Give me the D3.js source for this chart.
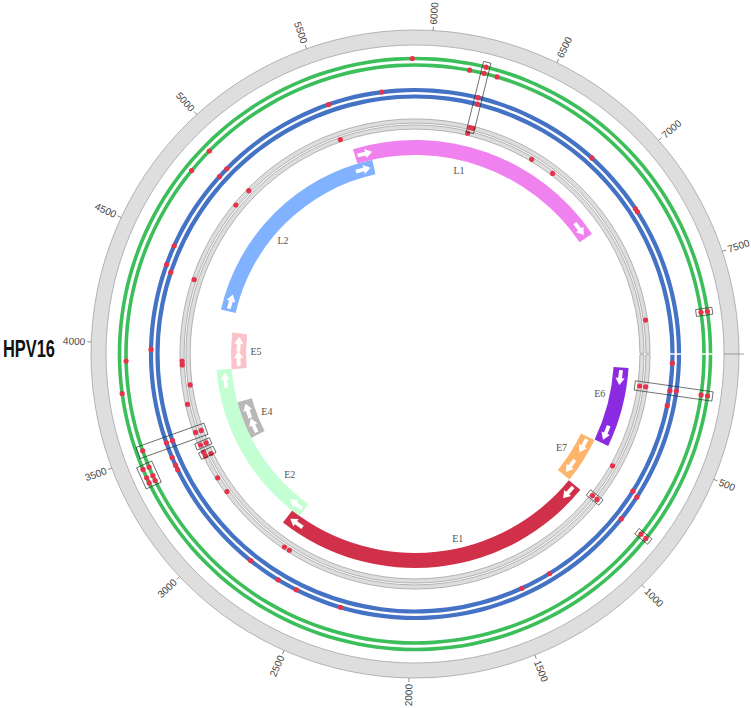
<!DOCTYPE html>
<html>
<head>
<meta charset="utf-8">
<script src="https://cdn.jsdelivr.net/npm/d3@7"></script>
<style>
  body { margin: 0; background: #fff; }
  svg { display: block; }
</style>
</head>
<body>
<div id="chart"></div>
<script>
// genome
const genomeName = "HPV16";
const genomeLength = 7906;
const tickValues = d3.range(500, 8000, 500);

// genes (bp)
const geneNames   = ["E6", "E7", "E1", "E2", "E4", "E5", "L2", "L1"];
const geneStarts  = [83, 562, 865, 2755, 3357, 3849, 4236, 5560];
const geneEnds    = [559, 858, 2813, 3852, 3619, 4101, 5657, 7155];
const geneLanes   = [0, 1, 0, 1, 2, 2, 1, 0];
const geneLabelAt = [265, 718, 1689, 2987, 3485, 3969, 4845, 6225];
const geneColors  = ["#8a2be2", "#fdb56b", "#d0304a", "#c4ffd4", "#b8b8b8", "#fbc2ca", "#80b2ff", "#ef82ef"];

// variant positions on each ring (bp)
const greenOuter = [179, 848, 3385, 3409, 3448, 3784, 5918, 6235, 7724];
const greenInner = [179, 847, 3383, 3406, 3447, 3523, 3922, 4818, 4933, 6169, 6233, 6292, 7724];
const blueOuter  = [177, 721, 849, 2336, 2563, 2662, 2822, 3382, 3406, 3446, 3521, 3975, 4388, 4484,
                    4880, 4931, 5510, 5771, 6233, 6853, 7173, 7190];
const blueInner  = [45, 179, 254, 707, 1285, 1438, 3521, 4359, 6237];
const grayOuter  = [178, 848, 2693, 2725, 3158, 3248, 3383, 3406, 3448, 3521, 3679, 3894, 3915,
                    4362, 4826, 4930, 6228, 6246, 7722];
const grayInner  = [178, 648, 847, 3382, 3447, 3521, 3781, 5508, 6224, 6609, 6749];

// highlighted clusters: bp range and the rings they span
const boxes = [
  { start: 6217, end: 6253, inner: "R1", outer: "G1" },
  { start: 7709, end: 7739, inner: "G2", outer: "G1" },
  { start: 156,  end: 201,  inner: "R2", outer: "G1" },
  { start: 829,  end: 867,  inner: "R2", outer: "R1" },
  { start: 833,  end: 863,  inner: "G2", outer: "G1" },
  { start: 3492, end: 3550, inner: "R2", outer: "G2" },
  { start: 3366, end: 3466, inner: "G2", outer: "G1" },
  { start: 3430, end: 3466, inner: "R2", outer: "R1" },
  { start: 3375, end: 3414, inner: "R2", outer: "R1" }
];

const width = 751, height = 708;
const cx = 415, cy = 354;
const ringR = { G1: 295.5, G2: 289, B1: 264, B2: 257.5, R1: 233, R2: 227 };
const laneR = [[199, 214], [184, 199], [169, 184]];
const outerR = [309, 324];

const theta = d3.scaleLinear().domain([0, genomeLength]).range([0, 2 * Math.PI]);
const deg = (a) => a * 180 / Math.PI;
const arc = d3.arc();
function band(r0, r1, a0, a1) {
  return arc({ innerRadius: r0, outerRadius: r1, startAngle: a0 + Math.PI / 2, endAngle: a1 + Math.PI / 2 });
}

const svg = d3.select("#chart").append("svg")
  .attr("width", width)
  .attr("height", height);

const g = svg.append("g").attr("transform", `translate(${cx},${cy})`);

// outer ideogram ring
g.append("path")
  .attr("d", band(outerR[0], outerR[1], 0, 2 * Math.PI))
  .attr("fill", "#dedede")
  .attr("stroke", "#9a9a9a")
  .attr("stroke-width", 0.7);

// ticks + labels
g.append("line")
  .attr("x1", outerR[0]).attr("x2", outerR[1] + 5)
  .attr("stroke", "#888").attr("stroke-width", 0.8);

const ticks = g.selectAll(".tick")
  .data(tickValues)
  .enter()
  .append("g")
  .attr("class", "tick")
  .attr("transform", (d) => `rotate(${deg(theta(d))})`);

ticks.append("line")
  .attr("x1", outerR[1]).attr("x2", outerR[1] + 4)
  .attr("stroke", "#777").attr("stroke-width", 0.8);

ticks.append("text")
  .attr("x", outerR[1] + 6)
  .attr("dy", "0.35em")
  .attr("font-family", "Liberation Sans, Arial, sans-serif")
  .attr("font-size", 10)
  .attr("fill", "#444")
  .attr("text-anchor", (d) => Math.cos(theta(d)) < 0 ? "end" : "start")
  .attr("transform", (d) => Math.cos(theta(d)) < 0 ? `rotate(180, ${outerR[1] + 6}, 0)` : null)
  .text((d) => d);

// data rings (thin white seam at position 0)
function ring(r, half, fill, stroke) {
  const gap = 0.7 / r;
  g.append("path")
    .attr("d", band(r - half, r + half, gap, 2 * Math.PI - gap))
    .attr("fill", fill)
    .attr("stroke", stroke || "none")
    .attr("stroke-width", 0.7);
}
ring(ringR.G1, 1.8, "#3cbe5a");
ring(ringR.G2, 1.8, "#3cbe5a");
ring(ringR.B1, 2.1, "#4472c4");
ring(ringR.B2, 2.1, "#4472c4");
ring(ringR.R1, 2.1, "#dddddd", "#999");
ring(ringR.R2, 2.1, "#dddddd", "#999");

// genes
const genes = geneNames.map((name, i) => ({
  name, start: geneStarts[i], end: geneEnds[i], lane: geneLanes[i],
  labelAt: geneLabelAt[i], color: geneColors[i]
}));

const geneG = g.selectAll(".gene")
  .data(genes)
  .enter()
  .append("g")
  .attr("class", "gene");

geneG.append("path")
  .attr("d", (d) => band(laneR[d.lane][0], laneR[d.lane][1], theta(d.start), theta(d.end)))
  .attr("fill", (d) => d.color);

// two white arrows near the ends of each gene, pointing clockwise
const arrowPath = "M-8,-1.9 L0,-1.9 L0,-4.6 L7,0 L0,4.6 L0,1.9 L-8,1.9 Z";
geneG.each(function (d) {
  const rm = (laneR[d.lane][0] + laneR[d.lane][1]) / 2;
  const a0 = theta(d.start), a1 = theta(d.end);
  const off = 10.5 / rm;
  [a0 + off, a1 - off].forEach((a) => {
    d3.select(this).append("path")
      .attr("d", arrowPath)
      .attr("fill", "#fff")
      .attr("transform", `translate(${rm * Math.cos(a)},${rm * Math.sin(a)}) rotate(${deg(a) + 90})`);
  });
});

geneG.append("text")
  .attr("x", (d) => (laneR[d.lane][0] - 10) * Math.cos(theta(d.labelAt)))
  .attr("y", (d) => (laneR[d.lane][0] - 10) * Math.sin(theta(d.labelAt)))
  .attr("dy", "0.35em")
  .attr("text-anchor", "middle")
  .attr("font-family", "Liberation Serif, Times New Roman, serif")
  .attr("font-size", 10)
  .attr("fill", "#555")
  .text((d) => d.name);

// variants
const variants = [
  ["G1", greenOuter], ["G2", greenInner],
  ["B1", blueOuter], ["B2", blueInner],
  ["R1", grayOuter], ["R2", grayInner]
].flatMap(([ringName, list]) => list.map((pos) => ({ ring: ringName, pos })));

g.selectAll(".snv")
  .data(variants)
  .enter()
  .append("circle")
  .attr("class", "snv")
  .attr("cx", (d) => ringR[d.ring] * Math.cos(theta(d.pos)))
  .attr("cy", (d) => ringR[d.ring] * Math.sin(theta(d.pos)))
  .attr("r", 2.6)
  .attr("fill", "#e5334b");

// cluster boxes
g.selectAll(".box")
  .data(boxes)
  .enter()
  .append("g")
  .attr("class", "box")
  .attr("transform", (d) => `rotate(${deg(theta((d.start + d.end) / 2))})`)
  .append("rect")
  .attr("x", (d) => ringR[d.inner] - 5)
  .attr("width", (d) => ringR[d.outer] - ringR[d.inner] + 10)
  .attr("y", (d) => -(theta(d.end) - theta(d.start)) * (ringR[d.inner] + ringR[d.outer]) / 4)
  .attr("height", (d) => (theta(d.end) - theta(d.start)) * (ringR[d.inner] + ringR[d.outer]) / 2)
  .attr("fill", "none")
  .attr("stroke", "#222")
  .attr("stroke-width", 0.6);

// title
svg.append("text")
  .attr("x", 3)
  .attr("y", 357)
  .attr("font-family", "Liberation Sans Narrow, Arial Narrow, Liberation Sans, sans-serif")
  .attr("font-weight", "bold")
  .attr("font-size", 23)
  .attr("textLength", 52)
  .attr("lengthAdjust", "spacingAndGlyphs")
  .attr("fill", "#111")
  .text(genomeName);
</script>
</body>
</html>
